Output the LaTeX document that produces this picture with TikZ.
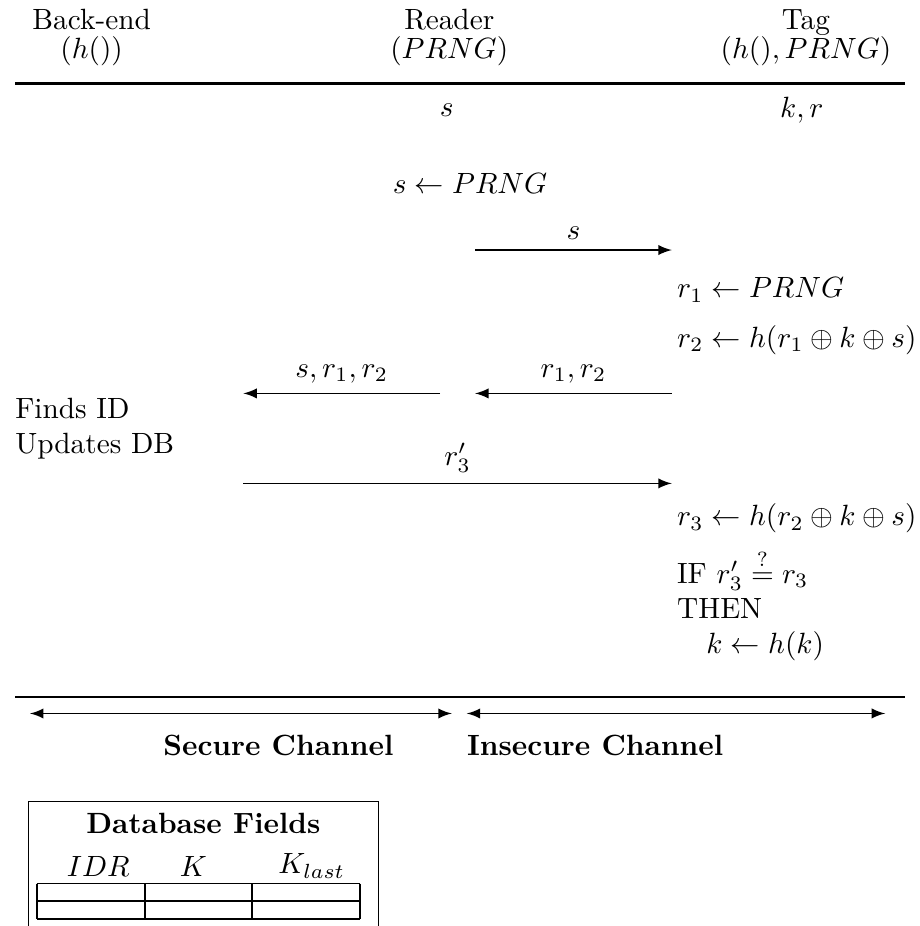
\documentclass[tikz,border=0pt]{standalone}
\usepackage{amsmath}
\usepackage{amsfonts}
\usetikzlibrary{calc}

\tikzset{msg/.style={semithick, -latex}, chan/.style={semithick, latex-latex}}

\begin{document}
\begin{tikzpicture}
    \useasboundingbox (0,0) rectangle (11.03,-11.11); % 全体の大きさ
    % 見出し
    \node[align=center] (backend) at (1.10,-0.45) {Back-end\\[-2pt]$(h())$};
    \node[align=center] (reader) at (5.39,-0.45) {Reader\\[-2pt]$(PRNG)$};
    \node[align=center] (tag) at (9.67,-0.45) {Tag\\[-2pt]$(h(), PRNG)$};
    \draw[thick] (0.18,-1.0) -- (10.86,-1.0); % 見出しの下線

    \node (rinit) at (5.36,-1.32) {$s$};
    \node (tinit) at (9.62,-1.32) {$k, r$};
    \node (rgen) at (5.64,-2.2) {$s \leftarrow PRNG$};

    % 矢印の端点
    \coordinate (r1) at (5.70,-3.0);  \coordinate (t1) at (8.06,-3.0);
    \coordinate (b2) at (2.92,-4.72); \coordinate (rl2) at (5.28,-4.72);
    \coordinate (rr2) at (5.70,-4.72); \coordinate (t2) at (8.06,-4.72);
    \coordinate (b3) at (2.92,-5.80); \coordinate (t3) at (8.06,-5.80);

    \draw[msg] (r1) -- (t1) node[midway, above] {$s$};
    \node[anchor=west] (tgen1) at (8.00,-3.48) {$r_1 \leftarrow PRNG$};
    \node[anchor=west] (tgen2) at (8.00,-4.08) {$r_2 \leftarrow h(r_1 \oplus k \oplus s)$};
    \draw[msg] (t2) -- (rr2) node[midway, above] {$r_1, r_2$};
    \draw[msg] (rl2) -- (b2) node[midway, above] {$s, r_1, r_2$};
    \node[align=left, anchor=west] (find) at (0.06,-5.14) {Finds ID\\Updates DB};
    \draw[msg] (b3) -- (t3) node[midway, above] {$r_3'$};
    \node[anchor=west] (tgen3) at (8.00,-6.22) {$r_3 \leftarrow h(r_2 \oplus k \oplus s)$};
    \node[align=left, anchor=west] (check) at (8.00,-7.26) {IF $r_3' \stackrel{?}{=} r_3$\\THEN\\\quad$k \leftarrow h(k)$};

    % チャネル
    \draw[thick] (0.18,-8.36) -- (10.86,-8.36);
    \coordinate (sl) at (0.36,-8.56); \coordinate (sr) at (5.42,-8.56);
    \coordinate (il) at (5.60,-8.56); \coordinate (ir) at (10.62,-8.56);
    \draw[chan] (sl) -- (sr);
    \draw[chan] (il) -- (ir);
    \node (secure) at (3.34,-8.94) {\textbf{Secure Channel}};
    \node (insecure) at (7.14,-8.94) {\textbf{Insecure Channel}};

    % データベースの表
    \draw (0.34,-11.11) |- (4.54,-9.62) -- (4.54,-11.11); % 下は切れている
    \node (dbtitle) at (2.44,-9.88) {\textbf{Database Fields}};
    \node (idr) at (1.18,-10.39) {$IDR$};
    \node (kcur) at (2.32,-10.39) {$K$};
    \node (klast) at (3.74,-10.39) {$K_{last}$};
    \foreach \y in {-10.60,-10.81,-11.03} \draw[semithick] (0.44,\y) -- (4.32,\y); % 空欄
    \foreach \x in {0.44,1.74,3.02,4.32} \draw[semithick] (\x,-10.60) -- (\x,-11.03);
  \end{tikzpicture}
\end{document}
